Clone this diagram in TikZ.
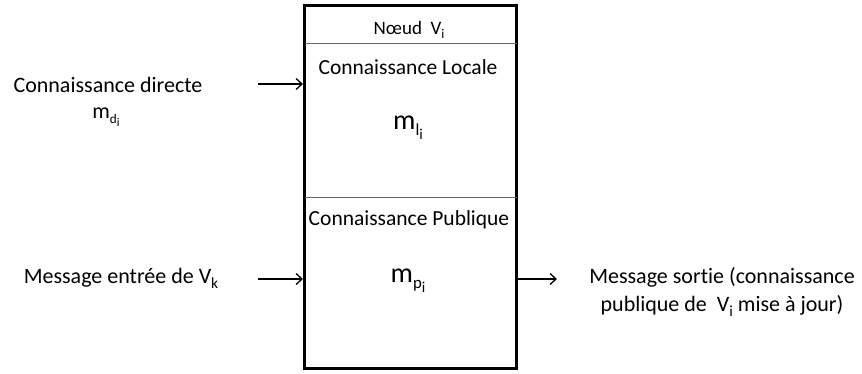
\documentclass[tikz,border=0pt]{standalone}
\usepackage{fontspec}
\setmainfont[Ligatures=NoCommon]{Carlito}
\usetikzlibrary{arrows.meta}
\newlength{\du}
\setlength{\du}{1pt}
\newcommand{\lowidx}[2][0.6]{\raisebox{-0.45ex}{\scalebox{#1}{#2}}}
\tikzset{
  lbl/.style={font=\fontsize{22\du}{28\du}\selectfont, align=center, inner sep=0pt},
  sectitle/.style={font=\fontsize{21.5\du}{24\du}\selectfont, inner sep=0pt},
  symb/.style={font=\fontsize{28\du}{30\du}\selectfont, inner sep=0pt},
  arr/.style={-{Straight Barb[length=6pt,width=11pt]}, line width=1.3\du},
  sep/.style={draw=black!60, line width=1\du}
}
\begin{document}
\begin{tikzpicture}[yscale=-1]
\useasboundingbox (0\du,0\du) rectangle (862\du,374\du);
% the node box
\draw[line width=3\du] (304.5\du,5.5\du) rectangle (516.5\du,368.5\du);
\draw[sep] (304.5\du,44\du) -- (516.5\du,44\du);
\draw[sep] (304.5\du,198\du) -- (516.5\du,198\du);
\node[sectitle, font=\fontsize{19\du}{22\du}\selectfont] (title) at (409\du,30\du) {Nœud\ \ V\lowidx[0.7]{i}};
\node[sectitle] (local) at (408\du,67\du) {Connaissance Locale};
\node[symb] (mli) at (408\du,128\du) {m\lowidx{l\lowidx[0.9]{i}}};
\node[sectitle] (public) at (409\du,220\du) {Connaissance Publique};
\node[symb] (mpi) at (408\du,281\du) {m\lowidx{p\lowidx[0.9]{i}}};
% left side
\node[lbl] (direct) at (108\du,85\du) {Connaissance directe};
\node[lbl] (mdi) at (106\du,117\du) {m\lowidx{d\lowidx[0.9]{i}}};
\node[lbl] (msgin) at (121\du,278\du) {Message entrée de V\lowidx[0.7]{k}};
\coordinate (inA) at (303\du,84\du);
\coordinate (inB) at (303\du,279\du);
\coordinate (outC) at (518\du,279\du);
\coordinate (startA) at (258\du,84\du);
\coordinate (startB) at (258\du,279\du);
\coordinate (endC) at (557\du,279\du);
\draw[arr] (startA) -- (inA);
\draw[arr] (startB) -- (inB);
\draw[arr] (outC) -- (endC);
% right side
\node[lbl] (msgout) at (722\du,292\du) {Message sortie (connaissance\\publique de\ \ V\lowidx[0.7]{i} mise à jour)};
\end{tikzpicture}
\end{document}
